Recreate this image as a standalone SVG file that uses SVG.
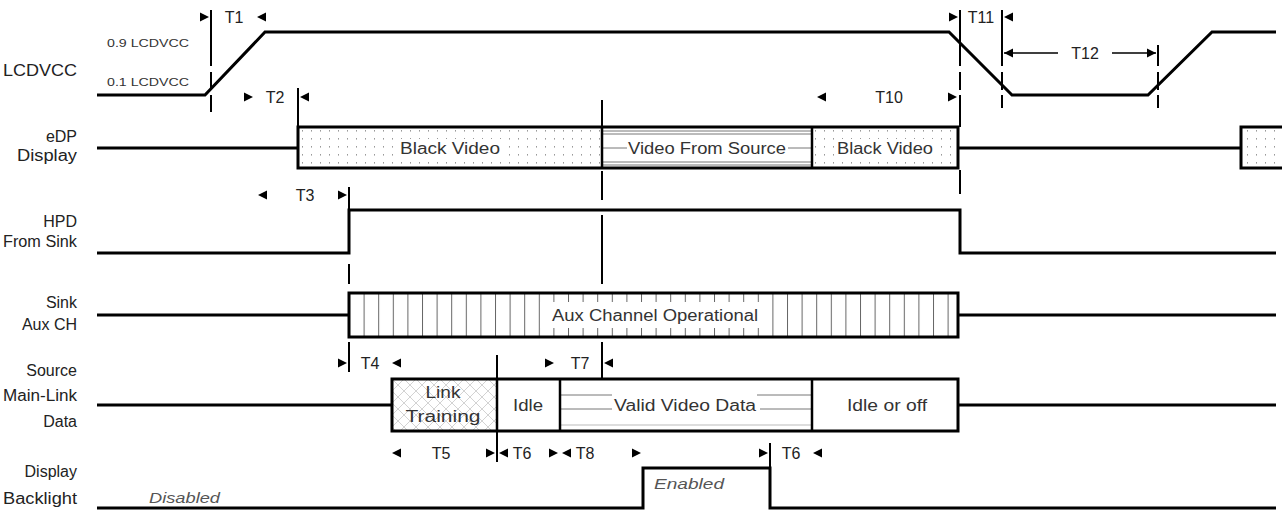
<svg xmlns="http://www.w3.org/2000/svg" width="1282" height="513" viewBox="0 0 1282 513">
<defs>
<style>
.sig{fill:none;stroke:#000;stroke-width:3;stroke-linejoin:miter}
.bx{stroke:#000;stroke-width:3}
.dv{stroke:#000;stroke-width:2.5}
.tk{stroke:#000;stroke-width:2;fill:none}
.lbl{font-family:"Liberation Sans",Arial,sans-serif;font-size:16px;fill:#222;text-anchor:end}
.t{font-family:"Liberation Sans",Arial,sans-serif;font-size:16px;fill:#222;text-anchor:middle}
.in{font-family:"Liberation Sans",Arial,sans-serif;font-size:16px;fill:#333;text-anchor:middle}
.it{font-family:"Liberation Sans",Arial,sans-serif;font-size:15px;fill:#555;font-style:italic}
.sm{font-family:"Liberation Sans",Arial,sans-serif;font-size:10px;fill:#333}
.hl{stroke:#777;stroke-width:1}
</style>
<pattern id="dots" patternUnits="userSpaceOnUse" width="9" height="8" x="298" y="127"><rect x="4" y="3" width="1" height="1.6" fill="#999"/></pattern>
<pattern id="vl" patternUnits="userSpaceOnUse" width="14.6" height="50" x="349" y="0"><rect x="0" y="0" width="1" height="50" fill="#666"/></pattern>
<pattern id="xh" patternUnits="userSpaceOnUse" width="12" height="12" x="392" y="379"><path d="M0 0L12 12M12 0L0 12" stroke="#c8c8c8" stroke-width="0.8"/></pattern>
<polygon id="ar" points="0,0 -9,-4.5 -9,4.5" fill="#000"/>
<polygon id="al" points="0,0 9,-4.5 9,4.5" fill="#000"/>
</defs>
<rect width="1282" height="513" fill="#fff"/>

<g id="labels">
<text class="lbl" x="77" y="76" textLength="74" lengthAdjust="spacingAndGlyphs">LCDVCC</text>
<text class="sm" x="107" y="47" textLength="82" lengthAdjust="spacingAndGlyphs">0.9 LCDVCC</text>
<text class="sm" x="107" y="86" textLength="82" lengthAdjust="spacingAndGlyphs">0.1 LCDVCC</text>
<text class="lbl" x="77" y="142">eDP</text>
<text class="lbl" x="77" y="161" textLength="60" lengthAdjust="spacingAndGlyphs">Display</text>
<text class="lbl" x="77" y="227">HPD</text>
<text class="lbl" x="77" y="247" textLength="74" lengthAdjust="spacingAndGlyphs">From Sink</text>
<text class="lbl" x="77" y="308">Sink</text>
<text class="lbl" x="77" y="330">Aux CH</text>
<text class="lbl" x="77" y="376">Source</text>
<text class="lbl" x="77" y="401" textLength="74" lengthAdjust="spacingAndGlyphs">Main-Link</text>
<text class="lbl" x="77" y="427">Data</text>
<text class="lbl" x="77" y="477">Display</text>
<text class="lbl" x="77" y="504" textLength="74" lengthAdjust="spacingAndGlyphs">Backlight</text>
</g>

<g id="lcdvcc">
<path class="sig" d="M97 95H205L265 32H949L1012 95H1148L1212 32H1276"/>
</g>

<g id="edp">
<path class="sig" d="M97 148H298"/>
<rect x="298" y="127" width="304" height="41" fill="url(#dots)"/>
<rect x="812" y="127" width="146" height="41" fill="url(#dots)"/>
<g class="hl">
<line x1="603" y1="131" x2="811" y2="131"/><line x1="603" y1="134" x2="811" y2="134"/>
<line x1="603" y1="162" x2="811" y2="162"/><line x1="603" y1="165" x2="811" y2="165"/>
<line x1="603" y1="148" x2="627" y2="148"/><line x1="788" y1="148" x2="811" y2="148"/>
</g>
<rect x="399" y="139" width="103" height="19" fill="#fff"/>
<rect x="835" y="139" width="100" height="19" fill="#fff"/>
<rect x="298" y="127" width="660" height="41" fill="none" class="bx"/>
<line class="dv" x1="602" y1="127" x2="602" y2="168"/>
<line class="dv" x1="812" y1="127" x2="812" y2="168"/>
<text class="in" x="450" y="154" textLength="100" lengthAdjust="spacingAndGlyphs">Black Video</text>
<text class="in" x="707" y="154" textLength="158" lengthAdjust="spacingAndGlyphs">Video From Source</text>
<text class="in" x="885" y="154" textLength="96" lengthAdjust="spacingAndGlyphs">Black Video</text>
<path class="sig" d="M958 148H1241"/>
<path d="M1290 127H1241V168H1290" fill="url(#dots)" class="bx"/>
</g>

<g id="hpd">
<path class="sig" d="M97 253H349V210H960V253H1276"/>
</g>

<g id="aux">
<path class="sig" d="M97 315H349M958 315H1276"/>
<rect x="349" y="293" width="609" height="44" fill="url(#vl)"/>
<rect x="540" y="302" width="230" height="26" fill="#fff"/>
<rect x="349" y="293" width="609" height="44" fill="none" class="bx"/>
<text class="in" x="655" y="321" textLength="206" lengthAdjust="spacingAndGlyphs">Aux Channel Operational</text>
</g>

<g id="mainlink">
<path class="sig" d="M97 405H392M958 405H1276"/>
<rect x="392" y="379" width="105" height="52" fill="url(#xh)"/>
<g class="hl">
<line x1="561" y1="395" x2="612" y2="395"/><line x1="561" y1="409" x2="612" y2="409"/>
<line x1="757" y1="395" x2="811" y2="395"/><line x1="760" y1="409" x2="811" y2="409"/>
<line x1="561" y1="425" x2="811" y2="425" stroke="#bbb"/>
</g>
<rect x="392" y="379" width="566" height="52" fill="none" class="bx"/>
<line class="dv" x1="497" y1="379" x2="497" y2="431"/>
<line class="dv" x1="560" y1="379" x2="560" y2="431"/>
<line class="dv" x1="812" y1="379" x2="812" y2="431"/>
<text class="in" x="443" y="398" textLength="35" lengthAdjust="spacingAndGlyphs">Link</text>
<text class="in" x="443" y="422" textLength="75" lengthAdjust="spacingAndGlyphs">Training</text>
<text class="in" x="528" y="411" textLength="30" lengthAdjust="spacingAndGlyphs">Idle</text>
<text class="in" x="685" y="411" textLength="142" lengthAdjust="spacingAndGlyphs">Valid Video Data</text>
<text class="in" x="887" y="411" textLength="80" lengthAdjust="spacingAndGlyphs">Idle or off</text>
</g>

<g id="backlight">
<path class="sig" d="M97 508H643V468H770V508H1276"/>
<text class="it" x="149" y="503" textLength="71" lengthAdjust="spacingAndGlyphs">Disabled</text>
<text class="it" x="654" y="489" textLength="70" lengthAdjust="spacingAndGlyphs">Enabled</text>
</g>

<g id="connectors">
<g class="tk">
<path d="M211 10V66M211 72V90M211 95V112"/>
<path d="M298 88V127"/>
<path d="M960 10V66M960 72V90M960 95V127M960 170V194"/>
<path d="M1002 10V66M1002 72V90M1002 95V108"/>
<path d="M1158 45V66M1158 72V90M1158 95V108"/>
<path d="M602 100V127M602 171V200M602 215V284M602 342V379"/>
<path d="M349 187V210M349 264V284M349 342V372"/>
<path d="M497 355V379M497 431V462"/>
<path d="M770 443V468"/>
<path d="M1004 53H1058M1112 53H1156" stroke-width="1.5"/>
</g>
<use href="#ar" x="209" y="17"/><use href="#al" x="257" y="17"/>
<text class="t" x="234" y="23">T1</text>
<use href="#ar" x="253" y="97"/><use href="#al" x="300" y="97"/>
<text class="t" x="275" y="103">T2</text>
<use href="#al" x="817" y="97"/><use href="#ar" x="957" y="97"/>
<text class="t" x="889" y="103">T10</text>
<use href="#ar" x="958" y="17"/><use href="#al" x="1004" y="17"/>
<text class="t" x="981" y="23">T11</text>
<use href="#al" x="1004" y="53"/><use href="#ar" x="1156" y="53"/>
<text class="t" x="1085" y="59">T12</text>
<use href="#al" x="258" y="195"/><use href="#ar" x="347" y="195"/>
<text class="t" x="305" y="201">T3</text>
<use href="#ar" x="347" y="363"/><use href="#al" x="392" y="363"/>
<text class="t" x="370" y="369">T4</text>
<use href="#ar" x="554" y="363"/><use href="#al" x="604" y="363"/>
<text class="t" x="580" y="369">T7</text>
<use href="#al" x="392" y="453"/><use href="#ar" x="495" y="453"/>
<text class="t" x="441" y="459">T5</text>
<use href="#al" x="499" y="453"/><use href="#ar" x="558" y="453"/>
<text class="t" x="522" y="459">T6</text>
<use href="#al" x="562" y="453"/><use href="#ar" x="641" y="453"/>
<text class="t" x="585" y="459">T8</text>
<use href="#ar" x="768" y="453"/><use href="#al" x="813" y="453"/>
<text class="t" x="791" y="459">T6</text>
</g>
</svg>
